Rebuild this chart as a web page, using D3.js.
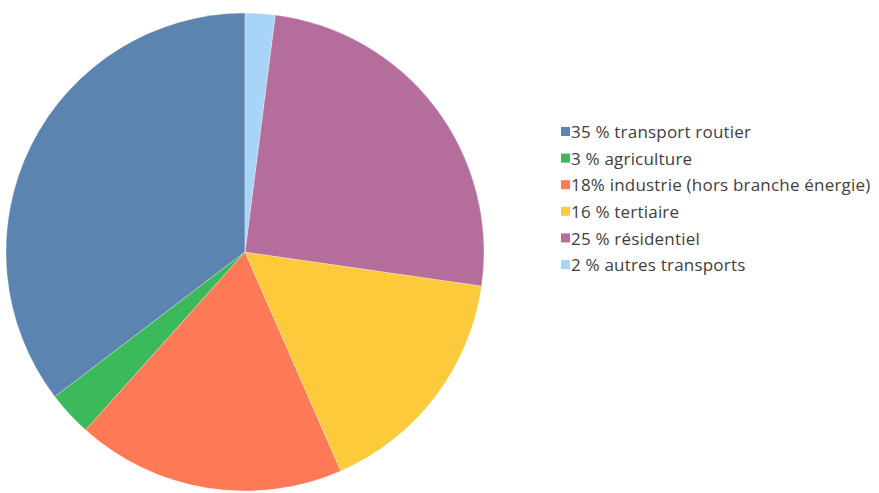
<!DOCTYPE html>
<html>
<head>
<meta charset="utf-8">
<script src="https://cdn.jsdelivr.net/npm/d3@7"></script>
<style>
  html, body { margin: 0; padding: 0; background: #fff; }
</style>
</head>
<body>
<div id="chart"></div>
<script>
/* ── Data ── */
const labels = [
  "35 % transport routier",
  "3 % agriculture",
  "18% industrie (hors branche énergie)",
  "16 % tertiaire",
  "25 % résidentiel",
  "2 % autres transports"
];
const values = [35, 3, 18, 16, 25, 2];
const colors = ["#5b84b1", "#3cb95b", "#fe7a56", "#fdca3c", "#b56e9c", "#a8d4f7"];

const W = 879, H = 493;
const cx = 245, cy = 252, R = 239;

const svg = d3.select("#chart").append("svg")
  .attr("width", W)
  .attr("height", H)
  .style("font-family", "'Open Sans', sans-serif");

/* ── Pie: counterclockwise from 12 o'clock, in data order ── */
const pie = d3.pie()
  .sort(null)
  .startAngle(0)
  .endAngle(-2 * Math.PI)
  .value(d => d);

const arc = d3.arc().innerRadius(0).outerRadius(R);

svg.append("g")
  .attr("transform", `translate(${cx},${cy})`)
  .selectAll("path")
  .data(pie(values))
  .enter().append("path")
  .attr("d", arc)
  .attr("fill", (d, i) => colors[i])
  .attr("stroke", "#ffffff")
  .attr("stroke-opacity", 0.35)
  .attr("stroke-width", 0.8);

/* ── Legend ── */
const legendY = d3.scalePoint()
  .domain(d3.range(labels.length))
  .range([132, 265]);

const leg = svg.append("g").selectAll("g")
  .data(labels)
  .enter().append("g")
  .attr("transform", (d, i) => `translate(561,${legendY(i)})`);

leg.append("rect")
  .attr("x", 0).attr("y", -5)
  .attr("width", 9).attr("height", 9)
  .attr("fill", (d, i) => colors[i]);

leg.append("text")
  .attr("x", 10)
  .attr("y", 0)
  .attr("dy", "0.36em")
  .attr("font-size", 17)
  .attr("letter-spacing", 0.2)
  .attr("fill", "#404040")
  .text(d => d);
</script>
</body>
</html>
